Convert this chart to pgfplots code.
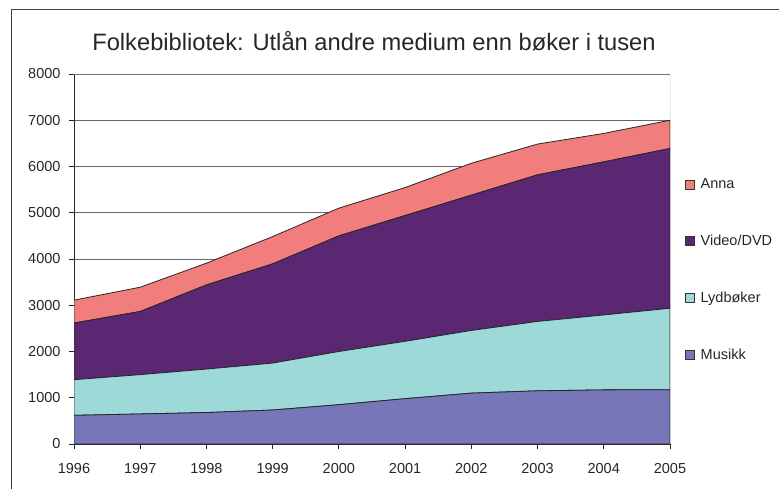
\documentclass[border=0pt]{standalone}
\usepackage{fontspec}
\setmainfont{Liberation Sans}
\usepackage{pgfplots}
\pgfplotsset{compat=1.18}
\definecolor{cMus}{HTML}{7676B8}
\definecolor{cLyd}{HTML}{9DD9D9}
\definecolor{cVid}{HTML}{5B2672}
\definecolor{cAnn}{HTML}{F27D7D}
\begin{document}
\begin{tikzpicture}
\path[use as bounding box] (0pt,0pt) rectangle (779pt,488pt);
\draw[black!75, line width=1pt] (11pt,-5pt) -- (11pt,478pt) -- (790pt,478pt);
\node[font=\fontsize{23.7}{28}\selectfont, anchor=base, text=black!85] at (374pt,437pt) {Folkebibliotek: Utlån andre medium enn bøker i tusen};
\begin{axis}[
  at={(74pt,44pt)}, anchor=south west,
  scale only axis, width=596pt, height=370pt,
  xmin=1996, xmax=2005, ymin=0, ymax=8000,
  xtick={1996,...,2005}, ytick={0,1000,...,8000},
  /pgf/number format/1000 sep={},
  /pgf/number format/assume math mode=true,
  tick label style={font=\fontsize{14.5}{17}\selectfont, text=black!85},
  xticklabel style={yshift=-11pt},
  yticklabel style={xshift=-5pt},
  axis x line*=bottom, axis y line*=left,
  axis line style={black!85, line width=0.8pt},
  tick align=outside, major tick length=5pt,
  tick style={black!85, line width=0.8pt},
  ymajorgrids, grid style={black!60, line width=0.6pt},
  stack plots=y,
  reverse legend,
  legend cell align=left,
  legend style={at={(1.025,0.723)}, anchor=north west, draw=none, fill=none,
    font=\fontsize{14.5}{17}\selectfont, text=black!85, row sep=41pt, column sep=4pt,
    inner sep=0pt},
  legend image code/.code={\draw[#1, draw=black!80, line width=0.6pt] (0pt,-4.5pt) rectangle (9pt,4.5pt);},
  every axis plot/.append style={draw=black!85, line width=0.8pt},
]
\addplot[fill=cMus] coordinates {(1996,620) (1997,650) (1998,680) (1999,735) (2000,850) (2001,980) (2002,1100) (2003,1150) (2004,1170) (2005,1175)} \closedcycle;
\addlegendentry{Musikk}
\addplot[fill=cLyd] coordinates {(1996,770) (1997,850) (1998,940) (1999,1015) (2000,1150) (2001,1240) (2002,1355) (2003,1500) (2004,1620) (2005,1760)} \closedcycle;
\addlegendentry{Lydbøker}
\addplot[fill=cVid] coordinates {(1996,1225) (1997,1365) (1998,1820) (1999,2145) (2000,2500) (2001,2720) (2002,2925) (2003,3170) (2004,3310) (2005,3455)} \closedcycle;
\addlegendentry{Video/DVD}
\addplot[fill=cAnn] coordinates {(1996,495) (1997,525) (1998,470) (1999,590) (2000,600) (2001,605) (2002,690) (2003,665) (2004,615) (2005,610)} \closedcycle;
\addlegendentry{Anna}
\draw[black!55, line width=0.6pt] (rel axis cs:0,1) -- (rel axis cs:1,1) -- (rel axis cs:1,0);
\end{axis}
\end{tikzpicture}
\end{document}
